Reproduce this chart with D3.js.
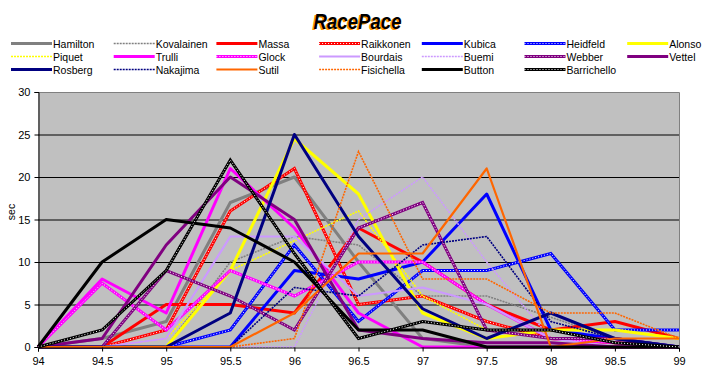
<!DOCTYPE html>
<html>
<head>
<meta charset="utf-8">
<script src="https://cdn.jsdelivr.net/npm/d3@7"></script>
<style>
  body { margin: 0; background: #fff; }
  svg { display: block; font-family: "Liberation Sans", Arial, sans-serif; }
</style>
</head>
<body>
<div id="chart"></div>
<script>
// --- DATA ---
var lapTimes = [94, 94.5, 95, 95.5, 96, 96.5, 97, 97.5, 98, 98.5, 99];
var yTicks = [0, 5, 10, 15, 20, 25, 30];

var drivers = ["Hamilton", "Kovalainen", "Massa", "Raikkonen", "Kubica", "Heidfeld", "Alonso",
               "Piquet", "Trulli", "Glock", "Bourdais", "Buemi", "Webber", "Vettel",
               "Rosberg", "Nakajima", "Sutil", "Fisichella", "Button", "Barrichello"];

var hamilton    = [0, 1, 3, 17, 20, 10, 1, 0, 0, 0, 0];
var kovalainen  = [0, 0, 0, 10, 13, 12, 6, 6, 3.5, 1, 0];
var massa       = [0, 0, 5, 5, 4, 14, 10, 5, 2, 3, 1];
var raikkonen   = [0, 0, 2, 16, 21, 5, 6, 3, 1, 0.5, 0];
var kubica      = [0, 0, 0, 0, 9, 8, 10, 18, 2, 1, 0];
var heidfeld    = [0, 0, 0, 2, 12, 3, 9, 9, 11, 2, 2];
var alonso      = [0, 0, 0, 9, 24.5, 18, 4, 1, 2, 2, 1];
var piquet      = [0, 0, 1, 9, 12.5, 16, 6, 2, 1, 1, 0];
var trulli      = [0, 8, 4, 21, 14, 4, 0, 0, 0, 0, 0];
var glock       = [0, 7.5, 2, 9, 6, 10, 10, 5, 1, 0.5, 0];
var bourdais    = [0, 0, 1, 13, 13, 6, 7, 5, 1, 0, 0];
var buemi       = [0, 0, 0, 0, 0, 15, 20, 10, 1, 1, 0];
var webber      = [0, 0, 9, 6, 2, 14, 17, 2, 1, 1, 0];
var vettel      = [0, 1, 12, 20, 15, 2, 1, 0.5, 0.5, 0, 0];
var rosberg     = [0, 0, 0, 4, 25, 13, 4.5, 1, 4, 1, 0];
var nakajima    = [0, 0, 0, 0, 7, 6, 12, 13, 3, 1, 0];
var sutil       = [0, 0, 0, 0, 4, 11, 11, 21, 0, 1, 1];
var fisichella  = [0, 0, 0, 0, 1, 23, 8, 8, 4, 4, 1];
var button      = [0, 10, 15, 14, 10, 2, 2, 0, 0, 0, 0];
var barrichello = [0, 2, 9, 22, 11, 1, 3, 2, 2, 0.5, 0];

var seriesValues = [hamilton, kovalainen, massa, raikkonen, kubica, heidfeld, alonso,
                    piquet, trulli, glock, bourdais, buemi, webber, vettel,
                    rosberg, nakajima, sutil, fisichella, button, barrichello];

// --- STYLES (kept apart from the data) ---
// solid = thick plain line, dots = thick line with white dots, thin = thin patterned line
var styles = [
  {color: "#808080", kind: "solid"}, {color: "#808080", kind: "thin"},
  {color: "#ff0000", kind: "solid"}, {color: "#ff0000", kind: "dots"},
  {color: "#0000ff", kind: "solid"}, {color: "#0000ff", kind: "dots"},
  {color: "#ffff00", kind: "solid"}, {color: "#ffff00", kind: "thin"},
  {color: "#ff00ff", kind: "solid"}, {color: "#ff00ff", kind: "dots"},
  {color: "#cc99ff", kind: "medium"}, {color: "#cc99ff", kind: "thin"},
  {color: "#800080", kind: "dots"},  {color: "#800080", kind: "solid"},
  {color: "#000080", kind: "solid"}, {color: "#000080", kind: "thin"},
  {color: "#ff6600", kind: "medium"}, {color: "#ff6600", kind: "thin"},
  {color: "#000000", kind: "solid"}, {color: "#000000", kind: "dots"}
];

// --- SETUP ---
var width = 713, height = 386;
var svg = d3.select("#chart").append("svg")
  .attr("width", width).attr("height", height);

var x = d3.scaleLinear().domain([94, 99]).range([38, 679]);
var y = d3.scaleLinear().domain([0, 30]).range([347, 92]);

// title with orange shadow
var title = svg.append("g").attr("font-weight", "bold").attr("font-style", "italic")
  .attr("font-size", 22).attr("text-anchor", "middle");
title.append("text").attr("x", 356).attr("y", 30).attr("fill", "#ff9900")
  .attr("textLength", 88).attr("lengthAdjust", "spacingAndGlyphs").text("RacePace");
title.append("text").attr("x", 357.5).attr("y", 29).attr("fill", "#000")
  .attr("textLength", 88).attr("lengthAdjust", "spacingAndGlyphs").text("RacePace");

// --- LINE DRAWING HELPER ---
function drawStyled(g, d, st) {
  if (st.kind === "solid") {
    g.append("path").attr("d", d).attr("fill", "none").attr("stroke", st.color)
      .attr("stroke-width", 3).attr("stroke-linejoin", "round");
  } else if (st.kind === "medium") {
    g.append("path").attr("d", d).attr("fill", "none").attr("stroke", st.color)
      .attr("stroke-width", 2.2).attr("stroke-linejoin", "round");
  } else if (st.kind === "dots") {
    g.append("path").attr("d", d).attr("fill", "none").attr("stroke", st.color)
      .attr("stroke-width", 3);
    g.append("path").attr("d", d).attr("fill", "none").attr("stroke", "#fff")
      .attr("stroke-width", 1).attr("stroke-dasharray", "1,2");
  } else {
    g.append("path").attr("d", d).attr("fill", "none").attr("stroke", st.color)
      .attr("stroke-width", 1.6).attr("stroke-dasharray", "2,1");
  }
}

// --- LEGEND ---
var legend = svg.append("g").attr("font-size", 10.5);
drivers.forEach(function(name, i) {
  var col = i % 7, row = Math.floor(i / 7);
  var lx = 11 + col * 102.7, ly = 43.5 + row * 13;
  var g = legend.append("g");
  drawStyled(g, "M" + lx + "," + ly + "H" + (lx + 41), styles[i]);
  g.append("text").attr("x", lx + 42).attr("y", ly + 4).attr("fill", "#000").text(name);
});

// --- PLOT AREA ---
svg.append("rect").attr("x", x(94)).attr("y", y(30))
  .attr("width", x(99) - x(94)).attr("height", y(0) - y(30)).attr("fill", "#c0c0c0");

// gridlines
svg.append("g").selectAll("line").data(yTicks.filter(function(t) { return t > 0 && t < 30; }))
  .enter().append("line")
  .attr("x1", x(94)).attr("x2", x(99))
  .attr("y1", function(d) { return y(d) + 0.5; }).attr("y2", function(d) { return y(d) + 0.5; })
  .attr("stroke", "#000").attr("stroke-width", 1);

// frame top/right
svg.append("path")
  .attr("d", "M" + x(94) + "," + (y(30) + 0.5) + "H" + (x(99) + 0.5) + "V" + y(0))
  .attr("fill", "none").attr("stroke", "#808080").attr("stroke-width", 1);

// series
var line = d3.line()
  .x(function(d, i) { return x(lapTimes[i]); })
  .y(function(d) { return y(d); });

var seriesG = svg.append("g");
seriesValues.forEach(function(vals, i) {
  drawStyled(seriesG.append("g"), line(vals), styles[i]);
});

// axes
var yAxis = d3.axisLeft(y).tickValues(yTicks).tickSize(4).tickPadding(4);
var yg = svg.append("g").attr("transform", "translate(" + (x(94) + 0.5) + ",0)").call(yAxis);
var xAxis = d3.axisBottom(x).tickValues(lapTimes).tickSize(4).tickPadding(6)
  .tickFormat(function(d) { return String(d); });
var xg = svg.append("g").attr("transform", "translate(0," + (y(0) + 0.5) + ")").call(xAxis);

[yg, xg].forEach(function(g) {
  g.select(".domain").attr("stroke", "#000");
  g.selectAll(".tick line").attr("stroke", "#000");
  g.selectAll("text").attr("font-size", 11).attr("fill", "#000")
    .attr("font-family", "'Liberation Sans', Arial, sans-serif");
});

// y-axis title
svg.append("text").attr("transform", "translate(15,212) rotate(-90)")
  .attr("text-anchor", "middle").attr("font-size", 10.5).attr("fill", "#000").text("sec");
</script>
</body>
</html>
